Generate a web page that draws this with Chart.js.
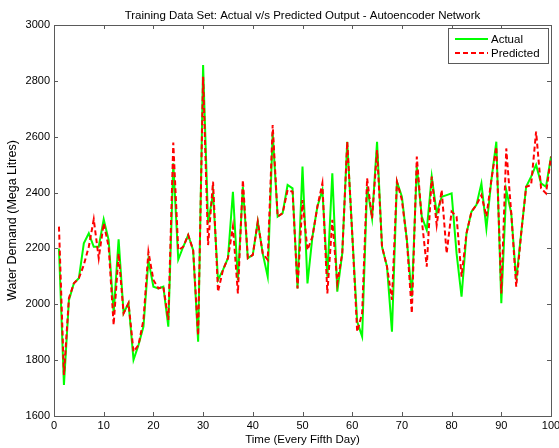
<!DOCTYPE html>
<html>
<head>
<meta charset="utf-8">
<script src="https://cdn.jsdelivr.net/npm/chart.js@4.4.1/dist/chart.umd.min.js"></script>
<style>
  html, body { margin: 0; padding: 0; background: #fff; }
  canvas { display: block; }
</style>
</head>
<body>
<canvas id="chart" width="559" height="448"></canvas>
<script>
// time index (every fifth day)
const days = [
  1, 2, 3, 4, 5, 6, 7, 8, 9, 10, 11, 12, 13, 14, 15, 16, 17, 18, 19, 20,
  21, 22, 23, 24, 25, 26, 27, 28, 29, 30, 31, 32, 33, 34, 35, 36, 37, 38, 39, 40,
  41, 42, 43, 44, 45, 46, 47, 48, 49, 50, 51, 52, 53, 54, 55, 56, 57, 58, 59, 60,
  61, 62, 63, 64, 65, 66, 67, 68, 69, 70, 71, 72, 73, 74, 75, 76, 77, 78, 79, 80,
  81, 82, 83, 84, 85, 86, 87, 88, 89, 90, 91, 92, 93, 94, 95, 96, 97, 98, 99, 100
];

// water demand, mega litres
const actual = [
  2200, 1711, 2015, 2075, 2093, 2218, 2254, 2206, 2206, 2304,
  2230, 1968, 2233, 1968, 2004, 1801, 1854, 1920, 2158, 2063,
  2057, 2063, 1920, 2505, 2160, 2206, 2248, 2194, 1866, 2857,
  2290, 2397, 2087, 2123, 2165, 2403, 2087, 2421, 2165, 2177,
  2296, 2182, 2099, 2612, 2314, 2326, 2427, 2415, 2057, 2493,
  2075, 2242, 2350, 2409, 2099, 2469, 2045, 2182, 2582, 2254,
  1938, 1884, 2421, 2308, 2582, 2206, 2135, 1902, 2439, 2385,
  2230, 2027, 2493, 2314, 2266, 2457, 2326, 2385, 2391, 2397,
  2182, 2027, 2254, 2332, 2356, 2433, 2271, 2445, 2582, 2004,
  2409, 2326, 2087, 2254, 2421, 2457, 2499, 2433, 2421, 2529
];

const predicted = [
  2278, 1747, 2022, 2075, 2093, 2141, 2206, 2304, 2165, 2290,
  2206, 1926, 2182, 1968, 2004, 1830, 1854, 1944, 2188, 2087,
  2057, 2063, 1944, 2579, 2194, 2206, 2248, 2194, 1889, 2815,
  2212, 2439, 2045, 2123, 2165, 2278, 2039, 2445, 2165, 2177,
  2296, 2182, 2159, 2642, 2314, 2326, 2409, 2403, 2057, 2373,
  2194, 2242, 2350, 2433, 2039, 2302, 2075, 2182, 2582, 2254,
  1902, 1968, 2451, 2308, 2552, 2206, 2135, 2016, 2439, 2373,
  2230, 1968, 2529, 2302, 2135, 2457, 2284, 2409, 2182, 2332,
  2314, 2099, 2254, 2332, 2356, 2391, 2314, 2445, 2564, 2039,
  2558, 2326, 2063, 2254, 2421, 2427, 2618, 2415, 2397, 2529
];

const seriesNames = ['Actual', 'Predicted'];
const xTicks = [0, 10, 20, 30, 40, 50, 60, 70, 80, 90, 100];
const yTicks = [1600, 1800, 2000, 2200, 2400, 2600, 2800, 3000];
const chartTitle = 'Training Data Set: Actual v/s Predicted Output - Autoencoder Network';

const FONT = 'Liberation Sans, Arial, sans-serif';
const AXIS_COLOR = '#5a5a5a';

const toPoints = ys => days.map((d, i) => ({x: d, y: ys[i]}));

// title centred over the axes like matlab does
const titlePlugin = {
  id: 'axesTitle',
  afterDraw(chart) {
    const {ctx, chartArea: a} = chart;
    ctx.save();
    ctx.font = '11.5px ' + FONT;
    ctx.fillStyle = '#000';
    ctx.textAlign = 'center';
    ctx.textBaseline = 'alphabetic';
    ctx.fillText(chartTitle, (a.left + a.right) / 2, 19);
    ctx.restore();
  }
};

// MATLAB style box with inward ticks on all four sides
const boxPlugin = {
  id: 'box',
  afterDatasetsDraw(chart) {
    const {ctx, chartArea: a, scales: {x, y}} = chart;
    ctx.save();
    ctx.strokeStyle = AXIS_COLOR;
    ctx.lineWidth = 1;
    ctx.beginPath();
    xTicks.forEach(v => {
      const px = Math.round(x.getPixelForValue(v)) + 0.5;
      ctx.moveTo(px, a.bottom); ctx.lineTo(px, a.bottom - 4);
      ctx.moveTo(px, a.top); ctx.lineTo(px, a.top + 4);
    });
    yTicks.forEach(v => {
      const py = Math.round(y.getPixelForValue(v)) + 0.5;
      ctx.moveTo(a.left, py); ctx.lineTo(a.left + 4, py);
      ctx.moveTo(a.right, py); ctx.lineTo(a.right - 4, py);
    });
    ctx.stroke();
    ctx.strokeRect(Math.round(a.left) + 0.5, Math.round(a.top) + 0.5,
      Math.round(a.right - a.left), Math.round(a.bottom - a.top));
    ctx.restore();
  }
};

// legend box inside the axes, top right
const insideLegend = {
  id: 'insideLegend',
  afterDraw(chart) {
    const {ctx, chartArea: a} = chart;
    const w = 100, h = 35;
    const left = a.right - w - 3, top = a.top + 3;
    ctx.save();
    ctx.fillStyle = '#fff';
    ctx.fillRect(left, top, w, h);
    ctx.strokeStyle = AXIS_COLOR;
    ctx.lineWidth = 1;
    ctx.strokeRect(left + 0.5, top + 0.5, w, h);
    ctx.font = '11.5px ' + FONT;
    ctx.textBaseline = 'middle';
    ctx.fillStyle = '#000';
    chart.data.datasets.forEach((ds, i) => {
      const yy = top + 11 + i * 14;
      ctx.strokeStyle = ds.borderColor;
      ctx.lineWidth = ds.borderWidth;
      ctx.setLineDash(ds.borderDash || []);
      ctx.beginPath();
      ctx.moveTo(left + 7, yy); ctx.lineTo(left + 40, yy);
      ctx.stroke();
      ctx.setLineDash([]);
      ctx.fillText(ds.label, left + 43, yy + 0.5);
    });
    ctx.restore();
  }
};

new Chart(document.getElementById('chart'), {
  type: 'line',
  data: {
    datasets: [
      {
        label: seriesNames[0],
        data: toPoints(actual),
        borderColor: '#00ff00',
        borderWidth: 2,
        order: 1
      },
      {
        label: seriesNames[1],
        data: toPoints(predicted),
        borderColor: '#ff0000',
        borderWidth: 2,
        borderDash: [5, 3],
        order: 0
      }
    ]
  },
  options: {
    responsive: false,
    animation: false,
    events: [],
    layout: {padding: {top: 25, right: 8, left: 0, bottom: 0}},
    elements: {point: {radius: 0}, line: {tension: 0}},
    plugins: {
      legend: {display: false},
      tooltip: {enabled: false},
      title: {display: false}
    },
    scales: {
      x: {
        type: 'linear',
        min: 0,
        max: 100,
        afterBuildTicks: s => { s.ticks = xTicks.map(v => ({value: v})); },
        afterFit: s => { s.height = 32; s.paddingLeft = 0; s.paddingRight = 0; },
        grid: {display: false, drawTicks: false},
        border: {display: false},
        ticks: {
          color: '#000', padding: 3, maxRotation: 0,
          font: {family: FONT, size: 11},
          callback: v => String(v)
        },
        title: {
          display: true,
          text: 'Time (Every Fifth Day)',
          color: '#000',
          font: {family: FONT, size: 11.5},
          padding: {top: 0, bottom: 1}
        }
      },
      y: {
        min: 1600,
        max: 3000,
        afterBuildTicks: s => { s.ticks = yTicks.map(v => ({value: v})); },
        afterFit: s => { s.width = 54; s.paddingTop = 0; s.paddingBottom = 0; },
        grid: {display: false, drawTicks: false},
        border: {display: false},
        ticks: {
          color: '#000', padding: 4,
          font: {family: FONT, size: 11},
          callback: v => String(v)
        },
        title: {
          display: true,
          text: 'Water Demand (Mega Litres)',
          color: '#000',
          font: {family: FONT, size: 12.5},
          padding: {top: 5, bottom: 0}
        }
      }
    }
  },
  plugins: [titlePlugin, boxPlugin, insideLegend]
});
</script>
</body>
</html>
